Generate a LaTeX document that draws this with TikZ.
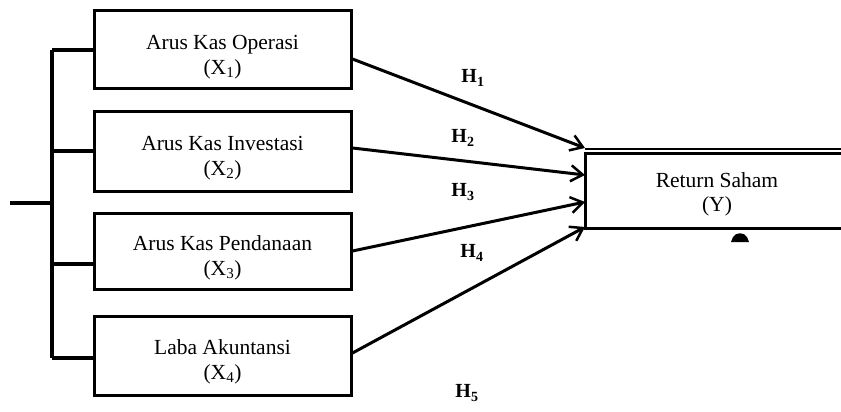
\documentclass[tikz,border=0pt]{standalone}
\usepackage{fontspec}
\setmainfont{Liberation Serif}
\usetikzlibrary{arrows.meta}
\newcommand{\toppad}{\rule{0pt}{28pt}}
\begin{document}
\begin{tikzpicture}[x=1pt,y=-1pt,
  varbox/.style={draw,line width=3pt,minimum width=257pt,minimum height=78pt,
    inner sep=0pt,align=center,font=\fontsize{21.5}{25}\selectfont},
  hlabel/.style={font=\fontsize{20}{22}\selectfont\bfseries,inner sep=0pt},
  conn/.style={line width=3pt,-{Straight Barb[length=12pt,width=16pt,line width=2.5pt]}},
  brace/.style={line width=3.5pt}]
\useasboundingbox (0,0) rectangle (841,412);
\node[varbox] (x1) at (222.5,50) {\toppad Arus Kas Operasi\\(X\textsubscript{1})};
\node[varbox,minimum height=80pt] (x2) at (222.5,151) {\toppad Arus Kas Investasi\\(X\textsubscript{2})};
\node[varbox,minimum height=76pt] (x3) at (222.5,251) {\toppad Arus Kas Pendanaan\\(X\textsubscript{3})};
\node[varbox,minimum height=79pt] (x4) at (222.5,355.5) {\toppad Laba Akuntansi\\(X\textsubscript{4})};
% Y box (extends to the right edge)
\coordinate (ytl) at (585,153);
\coordinate (ybl) at (585,228);
\coordinate (ytr) at (842,153);
\coordinate (ybr) at (842,228);
\draw[line width=3pt] (ytr) -- (ytl) -- (ybl) -- (ybr);
\draw[line width=2pt] (585,149) -- (842,149);
\node[font=\fontsize{21.5}{24}\selectfont,align=center,inner sep=0pt] (y) at (717,194) {Return Saham\\(Y)};
% bracket on the left
\coordinate (bt) at (52,50);
\coordinate (bb) at (52,358);
\coordinate (bm) at (52,203);
\coordinate (lin) at (10,203);
\draw[brace] (bt) -- (bb);
\draw[brace] (lin) -- (bm);
\draw[brace] (bt) -- (bt -| x1.west);
\draw[brace] (52,151) -- (x2.west |- 0,151);
\draw[brace] (52,264) -- (x3.west |- 0,264);
\draw[brace] (bb) -- (bb -| x4.west);
% arrows
\coordinate (e1) at (585,148);
\coordinate (e2) at (585,175);
\coordinate (e3) at (585,202);
\coordinate (e4) at (585,227);
\draw[conn] (x1.east |- 0,59) -- (e1);
\draw[conn] (x2.east |- 0,148) -- (e2);
\draw[conn] (x3.east |- 0,251) -- (e3);
\draw[conn] (x4.east |- 0,353) -- (e4);
% labels
\node[hlabel] (h1) at (473,78) {H\textsubscript{1}};
\node[hlabel] (h2) at (463,138) {H\textsubscript{2}};
\node[hlabel] (h3) at (463,192) {H\textsubscript{3}};
\node[hlabel] (h4) at (472,253) {H\textsubscript{4}};
\node[hlabel] (h5) at (467,393) {H\textsubscript{5}};
% small mark below Y box
\fill (731,242) -- (733,237) .. controls (736,232) and (744,232) .. (747,237) -- (749,242) -- cycle;
\end{tikzpicture}
\end{document}
